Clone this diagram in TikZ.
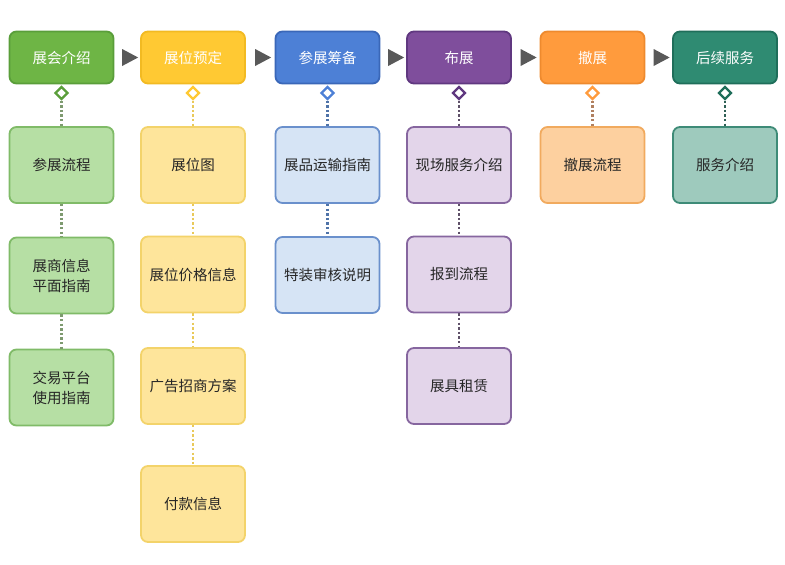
\documentclass[tikz,border=0pt]{standalone}
\usepackage{fontspec}
\setmainfont{Noto Sans CJK SC}
\usetikzlibrary{shapes.geometric}

\definecolor{grnHead}{HTML}{6EB545}
\definecolor{grnHeadLine}{HTML}{5A9E3A}
\definecolor{grnSub}{HTML}{B6DFA4}
\definecolor{grnSubLine}{HTML}{80BB68}
\definecolor{grnDot}{HTML}{7E9A70}
\definecolor{ylwHead}{HTML}{FFC933}
\definecolor{ylwHeadLine}{HTML}{F2BA22}
\definecolor{ylwSub}{HTML}{FEE59B}
\definecolor{ylwSubLine}{HTML}{F3D36A}
\definecolor{ylwDot}{HTML}{E9C95A}
\definecolor{bluHead}{HTML}{4D80D6}
\definecolor{bluHeadLine}{HTML}{3A67B8}
\definecolor{bluSub}{HTML}{D6E4F5}
\definecolor{bluSubLine}{HTML}{6A90CC}
\definecolor{bluDot}{HTML}{4F73A8}
\definecolor{prpHead}{HTML}{7F4E9C}
\definecolor{prpHeadLine}{HTML}{603880}
\definecolor{prpSub}{HTML}{E3D5EA}
\definecolor{prpSubLine}{HTML}{86669F}
\definecolor{prpDot}{HTML}{5E5068}
\definecolor{orgHead}{HTML}{FF9B3D}
\definecolor{orgHeadLine}{HTML}{EE8A2E}
\definecolor{orgSub}{HTML}{FDD09F}
\definecolor{orgSubLine}{HTML}{F1AA5E}
\definecolor{orgDot}{HTML}{B08060}
\definecolor{tealHead}{HTML}{2F8B72}
\definecolor{tealHeadLine}{HTML}{1F6E5A}
\definecolor{tealSub}{HTML}{9ECABD}
\definecolor{tealSubLine}{HTML}{3E8B77}
\definecolor{tealDot}{HTML}{2F5F55}

\begin{document}
\begin{tikzpicture}[x=1pt,y=-1pt,
    head/.style={draw, rounded corners=7pt, line width=1.8pt, minimum width=104pt,
        minimum height=52pt, text=white, font=\fontsize{14.5}{16}\selectfont},
    sub/.style={draw, rounded corners=7pt, line width=1.8pt, minimum width=104pt,
        minimum height=76pt, text=black!85, align=center, font=\fontsize{14.5}{20}\selectfont},
    gem/.style={diamond, draw, fill=white, line width=2.2pt, minimum size=13pt, inner sep=0pt},
    link/.style={line width=2.4pt, dash pattern=on 2.4pt off 2.2pt},
    tri/.style={isosceles triangle, isosceles triangle stretches, fill=black!65,
        minimum height=16pt, minimum width=17pt, inner sep=0pt}]
    \useasboundingbox (0,0) rectangle (785,565);

    % header row
    \node[head, fill=grnHead, draw=grnHeadLine] (intro) at (61.5,57.5) {展会介绍};
    \node[head, fill=ylwHead, draw=ylwHeadLine] (booth) at (193,57.5) {展位预定};
    \node[head, fill=bluHead, draw=bluHeadLine] (prep) at (327.5,57.5) {参展筹备};
    \node[head, fill=prpHead, draw=prpHeadLine] (build) at (459,57.5) {布展};
    \node[head, fill=orgHead, draw=orgHeadLine] (strip) at (592.5,57.5) {撤展};
    \node[head, fill=tealHead, draw=tealHeadLine] (after) at (725,57.5) {后续服务};

    \path (intro.east) -- (booth.west) node[tri, midway] (t1) {};
    \path (booth.east) -- (prep.west) node[tri, midway] (t2) {};
    \path (prep.east) -- (build.west) node[tri, midway] (t3) {};
    \path (build.east) -- (strip.west) node[tri, midway] (t4) {};
    \path (strip.east) -- (after.west) node[tri, midway] (t5) {};

    % diamonds
    \node[gem, draw=grnHeadLine] (g1) at (61.5,93) {};
    \node[gem, draw=ylwHead] (g2) at (193,93) {};
    \node[gem, draw=bluHead] (g3) at (327.5,93) {};
    \node[gem, draw=prpHeadLine] (g4) at (459,93) {};
    \node[gem, draw=orgHead] (g5) at (592.5,93) {};
    \node[gem, draw=tealHeadLine] (g6) at (725,93) {};

    % first column
    \node[sub, fill=grnSub, draw=grnSubLine] (flow) at (61.5,165) {参展流程};
    \node[sub, fill=grnSub, draw=grnSubLine] (guide) at (61.5,275.5) {展商信息\\平面指南};
    \node[sub, fill=grnSub, draw=grnSubLine] (trade) at (61.5,387.5) {交易平台\\使用指南};
    \draw[link, grnDot] (g1) -- (flow);
    \draw[link, grnDot] (flow) -- (guide);
    \draw[link, grnDot] (guide) -- (trade);

    % second column
    \node[sub, fill=ylwSub, draw=ylwSubLine] (plan) at (193,165) {展位图};
    \node[sub, fill=ylwSub, draw=ylwSubLine] (price) at (193,274.5) {展位价格信息};
    \node[sub, fill=ylwSub, draw=ylwSubLine] (ads) at (193,386) {广告招商方案};
    \node[sub, fill=ylwSub, draw=ylwSubLine] (pay) at (193,504) {付款信息};
    \draw[link, ylwDot] (g2) -- (plan);
    \draw[link, ylwDot] (plan) -- (price);
    \draw[link, ylwDot] (price) -- (ads);
    \draw[link, ylwDot] (ads) -- (pay);

    % third column
    \node[sub, fill=bluSub, draw=bluSubLine] (ship) at (327.5,165) {展品运输指南};
    \node[sub, fill=bluSub, draw=bluSubLine] (check) at (327.5,275) {特装审核说明};
    \draw[link, bluDot] (g3) -- (ship);
    \draw[link, bluDot] (ship) -- (check);

    % fourth column
    \node[sub, fill=prpSub, draw=prpSubLine] (site) at (459,165) {现场服务介绍};
    \node[sub, fill=prpSub, draw=prpSubLine] (reg) at (459,274.5) {报到流程};
    \node[sub, fill=prpSub, draw=prpSubLine] (rent) at (459,386) {展具租赁};
    \draw[link, prpDot] (g4) -- (site);
    \draw[link, prpDot] (site) -- (reg);
    \draw[link, prpDot] (reg) -- (rent);

    % fifth and sixth column
    \node[sub, fill=orgSub, draw=orgSubLine] (out) at (592.5,165) {撤展流程};
    \node[sub, fill=tealSub, draw=tealSubLine] (serv) at (725,165) {服务介绍};
    \draw[link, orgDot] (g5) -- (out);
    \draw[link, tealDot] (g6) -- (serv);
\end{tikzpicture}
\end{document}
